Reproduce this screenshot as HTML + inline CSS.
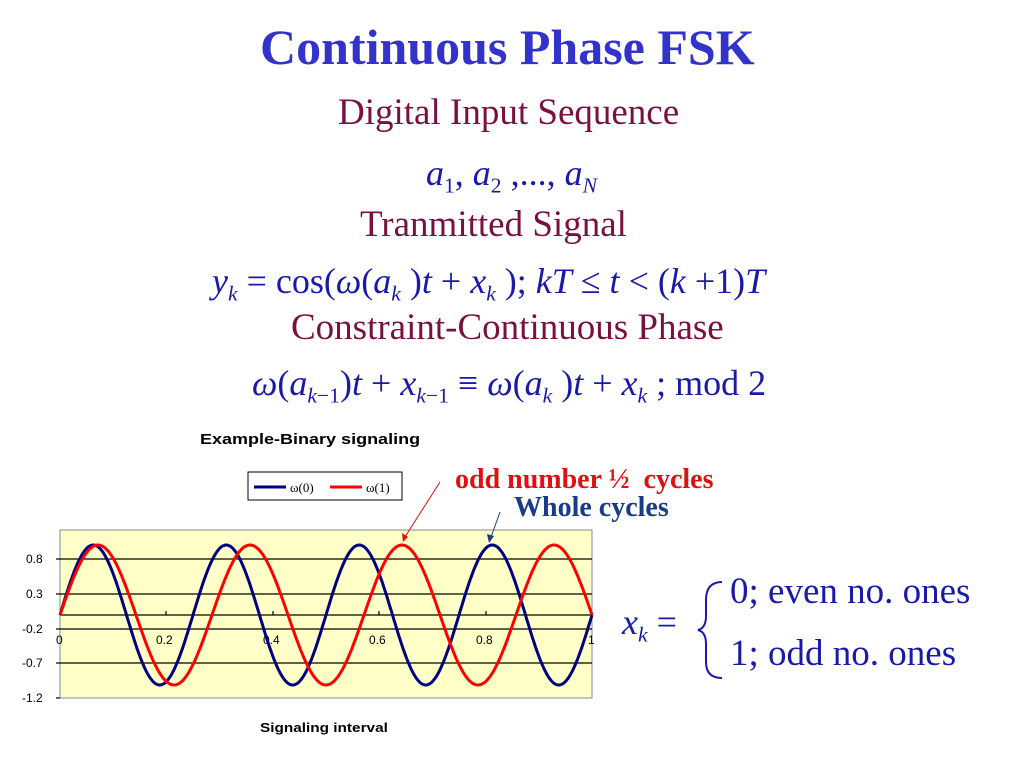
<!DOCTYPE html>
<html><head><meta charset="utf-8"><style>
body{margin:0;width:1024px;height:768px;background:#fff;position:relative;overflow:hidden;font-family:"Liberation Serif",serif}
.a{position:absolute;white-space:nowrap}
.t{color:#3333cc;font-weight:bold;font-size:50px}
.m{color:#7a1040;font-size:37px}
.f{color:#1a1aa8;font-size:36px}
i{font-style:italic}
sub{font-size:60%;vertical-align:-0.35em}
.sx{transform:scaleX(1.18);transform-origin:left top}
</style></head><body>
<div class="a t" style="left:260px;top:18px">Continuous Phase FSK</div>
<div class="a m" style="left:338px;top:91px">Digital Input Sequence</div>
<div class="a f" style="left:426px;top:152px"><i>a</i><sub>1</sub>, <i>a</i><sub>2</sub> ,..., <i>a<sub>N</sub></i></div>
<div class="a m" style="left:360px;top:203px">Tranmitted Signal</div>
<div class="a f" style="left:212px;top:260px"><i>y<sub>k</sub></i> = cos(<i>ω</i>(<i>a<sub>k</sub></i> )<i>t</i> + <i>x<sub>k</sub></i> ); <i>kT</i> ≤ <i>t</i> &lt; (<i>k</i> +1)<i>T</i></div>
<div class="a m" style="left:291px;top:306px">Constraint-Continuous Phase</div>
<div class="a f" style="left:252px;top:362px"><i>ω</i>(<i>a</i><sub><i>k</i>−1</sub>)<i>t</i> + <i>x</i><sub><i>k</i>−1</sub> ≡ <i>ω</i>(<i>a<sub>k</sub></i> )<i>t</i> + <i>x<sub>k</sub></i> ; mod 2</div>
<div class="a sx" style="left:200px;top:431px;font-family:'Liberation Sans',sans-serif;font-weight:bold;font-size:15px;transform:scaleX(1.2)">Example-Binary signaling</div>
<div class="a" style="left:455px;top:464px;color:#e01010;font-weight:bold;font-size:28px">odd number ½&nbsp; cycles</div>
<div class="a" style="left:514px;top:492px;color:#1a3a8a;font-weight:bold;font-size:28px">Whole cycles</div>
<div class="a sx" style="left:260px;top:720px;font-family:'Liberation Sans',sans-serif;font-weight:bold;font-size:13px">Signaling interval</div>
<div class="a f" style="left:622px;top:601px;color:#1a1aa8"><i>x<sub>k</sub></i> =</div>
<div class="a f" style="left:730px;top:570px;font-size:37px">0; even no. ones</div>
<div class="a f" style="left:730px;top:632px;font-size:37px">1; odd no. ones</div>
<svg class="a" style="left:0;top:0" width="1024" height="768">
<path d="M722,582 Q706,582 706,600 L706,616 Q706,628 698,630 Q706,632 706,644 L706,662 Q706,678 722,678" fill="none" stroke="#1a1aa8" stroke-width="2"/>
<rect x="248" y="472" width="154" height="28" fill="#fff" stroke="#000"/>
<line x1="254" y1="487" x2="286" y2="487" stroke="#000080" stroke-width="3"/>
<text x="290" y="492" font-family="Liberation Serif" font-size="13">ω(0)</text>
<line x1="330" y1="487" x2="362" y2="487" stroke="#ff0000" stroke-width="3"/>
<text x="366" y="492" font-family="Liberation Serif" font-size="13">ω(1)</text>
<rect x="60" y="530" width="532" height="168" fill="#ffffc8" stroke="#888"/>
<g stroke="#000" stroke-width="1.2">
<line x1="60" y1="559" x2="592" y2="559"/><line x1="60" y1="594" x2="592" y2="594"/>
<line x1="60" y1="629" x2="592" y2="629"/><line x1="60" y1="663" x2="592" y2="663"/>
<line x1="60" y1="615" x2="592" y2="615"/>
<line x1="166" y1="611" x2="166" y2="615"/><line x1="273" y1="611" x2="273" y2="615"/><line x1="379" y1="611" x2="379" y2="615"/><line x1="486" y1="611" x2="486" y2="615"/>
<line x1="56" y1="559" x2="60" y2="559"/><line x1="56" y1="594" x2="60" y2="594"/><line x1="56" y1="629" x2="60" y2="629"/><line x1="56" y1="663" x2="60" y2="663"/><line x1="56" y1="698" x2="60" y2="698"/>
</g>
<g font-family="Liberation Sans" font-size="12">
<text x="26" y="563">0.8</text><text x="26" y="598">0.3</text><text x="22" y="633">-0.2</text><text x="22" y="667">-0.7</text><text x="22" y="702">-1.2</text>
<text x="56" y="644">0</text><text x="156" y="644">0.2</text><text x="263" y="644">0.4</text><text x="369" y="644">0.6</text><text x="476" y="644">0.8</text><text x="588" y="644">1</text>
</g>
<path id="b" fill="none" stroke="#000080" stroke-width="3"/>
<path id="r" fill="none" stroke="#ff0000" stroke-width="3"/>
<line x1="440" y1="482" x2="403" y2="540" stroke="#e01010" stroke-width="1"/>
<polygon points="403,542 402,533 408,537" fill="#e01010"/>
<line x1="500" y1="512" x2="490" y2="540" stroke="#1a3a8a" stroke-width="1"/>
<polygon points="489,543 487,534 494,536" fill="#1a3a8a"/>
</svg>
<script>
function p(f){let d='';for(let i=0;i<=400;i++){let t=i/400;d+=(i?'L':'M')+(60+532*t).toFixed(1)+','+(615-70*Math.sin(2*Math.PI*f*t)).toFixed(1);}return d;}
document.getElementById('b').setAttribute('d',p(4));
document.getElementById('r').setAttribute('d',p(3.5));
</script>
</body></html>
